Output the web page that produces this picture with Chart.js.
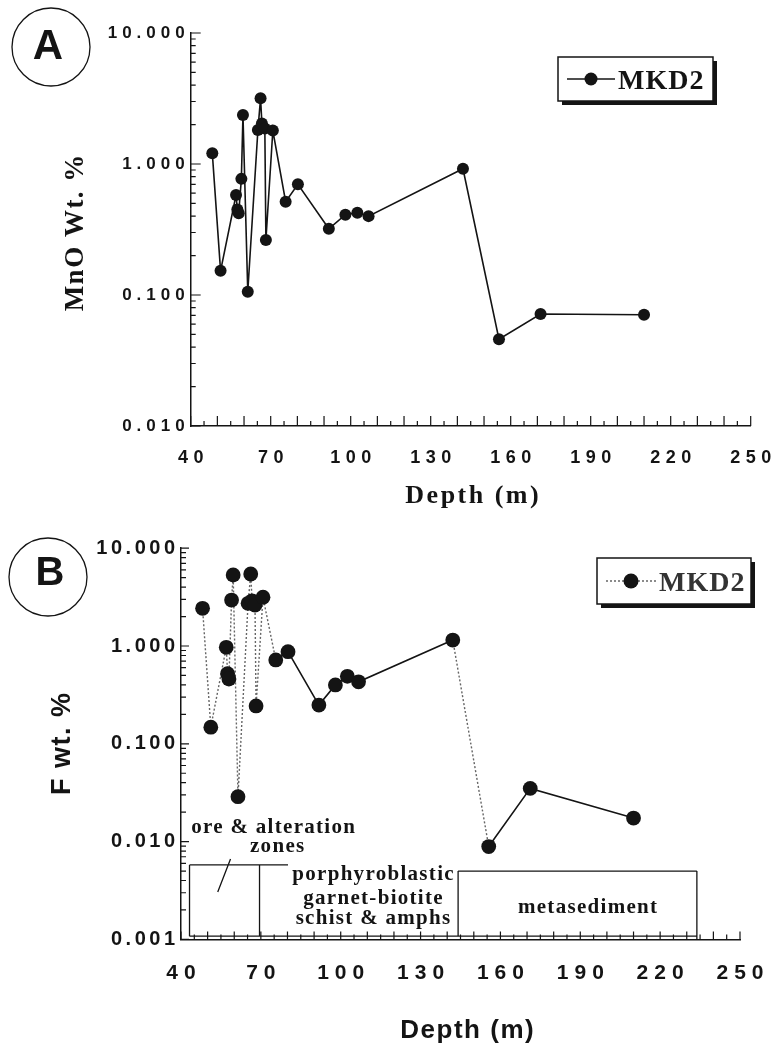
<!DOCTYPE html>
<html lang="en">
<head>
<meta charset="UTF-8" />
<title>MKD2 - MnO and F versus depth</title>
<script src="https://cdn.jsdelivr.net/npm/chart.js"></script>
<style>
  html, body { margin: 0; padding: 0; background: #fff; }
  #wrap { position: relative; width: 772px; height: 1045px; overflow: hidden; }
  canvas { position: absolute; left: 0; }
  #chartA { top: 0; }
  #chartB { top: 515px; }
</style>
</head>
<body>
<div id="wrap">
  <canvas id="chartA" width="772" height="515"></canvas>
  <canvas id="chartB" width="772" height="530"></canvas>
</div>

<script>
// drill hole MKD2 samples
const depth  = [48.1, 51.2, 57.0, 57.5, 58.0, 59.0, 59.6, 61.4, 65.2, 66.2, 66.7, 67.8, 68.2, 70.8, 75.6, 80.2, 91.8, 98.0, 102.5, 106.7, 142.1, 155.6, 171.2, 210.0];
const mnoWt  = [1.21, 0.153, 0.58, 0.45, 0.42, 0.77, 2.37, 0.106, 1.82, 3.18, 2.04, 1.87, 0.263, 1.80, 0.515, 0.70, 0.32, 0.41, 0.425, 0.40, 0.92, 0.046, 0.0716, 0.0707];
const fWt    = [2.43, 0.148, 0.97, 0.52, 0.46, 2.95, 5.32, 0.0288, 2.73, 5.45, 2.90, 2.62, 0.244, 3.15, 0.72, 0.875, 0.249, 0.40, 0.49, 0.43, 1.15, 0.0089, 0.035, 0.0174];

const depthTicks = [40, 70, 100, 130, 160, 190, 220, 250];
const mnoTicks = [0.01, 0.1, 1, 10];
const fTicks = [0.001, 0.01, 0.1, 1, 10];
const seriesName = 'MKD2';
const zoneLabels = ['ore & alteration', 'zones', 'porphyroblastic', 'garnet-biotite', 'schist & amphs', 'metasediment'];

const INK = '#141414';
const SANS = '"Liberation Sans", Arial, sans-serif';
const SERIF = '"Liberation Serif", "Times New Roman", serif';

function text(ctx, str, x, y, font, spacing, align, rot) {
  ctx.save();
  ctx.font = font;
  ctx.letterSpacing = spacing + 'px';
  ctx.fillStyle = INK;
  ctx.textAlign = align || 'center';
  ctx.textBaseline = 'middle';
  ctx.translate(x, y);
  if (rot) ctx.rotate(rot);
  // trailing letter spacing shifts centred text, compensate
  const shift = ctx.textAlign === 'center' ? spacing / 2 : (ctx.textAlign === 'right' ? spacing : 0);
  ctx.fillText(str, shift, 0);
  ctx.restore();
}

function drawInnerTicks(chart, o) {
  const {ctx, scales: {x, y}} = chart;
  ctx.save();
  ctx.strokeStyle = INK;
  ctx.lineWidth = 1.2;
  ctx.beginPath();
  for (let d = x.min; d <= x.max + 1e-9; d += 5) {
    const px = x.getPixelForValue(d);
    const len = d % 10 === 0 ? o.major : o.minor;
    ctx.moveTo(px, y.bottom);
    ctx.lineTo(px, y.bottom - len);
  }
  const e0 = Math.round(Math.log10(y.min)), e1 = Math.round(Math.log10(y.max));
  for (let e = e0; e <= e1; e++) {
    for (let m = 1; m <= 9; m++) {
      const v = m * Math.pow(10, e);
      if (v > y.max * 1.0001) break;
      const py = y.getPixelForValue(v);
      ctx.moveTo(x.left, py);
      ctx.lineTo(x.left + (m === 1 ? o.major : o.minor), py);
    }
  }
  ctx.stroke();
  ctx.restore();
}

function drawTickLabels(chart, o) {
  const {ctx, scales: {x, y}} = chart;
  x.ticks.forEach(t => text(ctx, t.label, x.getPixelForValue(t.value), y.bottom + o.xGap,
    `bold ${o.xSize}px ${SANS}`, o.xSpace, 'center'));
  y.ticks.forEach(t => text(ctx, t.label, x.left - o.yGap, y.getPixelForValue(t.value),
    `bold ${o.ySize}px ${SANS}`, o.ySpace, 'right'));
}

function drawPanelLetter(ctx, c) {
  ctx.save();
  ctx.strokeStyle = INK;
  ctx.lineWidth = 1.3;
  ctx.beginPath();
  ctx.arc(c.cx, c.cy, c.r, 0, Math.PI * 2);
  ctx.stroke();
  ctx.restore();
  text(ctx, c.letter, c.lx, c.ly, `bold ${c.size}px ${SANS}`, 0, 'center');
}

function drawLegend(chart, L) {
  const ctx = chart.ctx;
  const ds = chart.data.datasets[0];
  ctx.save();
  ctx.fillStyle = INK;
  ctx.fillRect(L.l + 4, L.t + 4, L.w, L.h);
  ctx.fillStyle = '#fff';
  ctx.fillRect(L.l, L.t, L.w, L.h);
  ctx.strokeStyle = INK;
  ctx.lineWidth = 1.5;
  ctx.strokeRect(L.l, L.t, L.w, L.h);
  const my = L.t + L.h / 2;
  ctx.beginPath();
  ctx.strokeStyle = L.dashed ? '#666' : INK;
  ctx.setLineDash(L.dashed ? [2, 2] : []);
  ctx.lineWidth = 1.5;
  ctx.moveTo(L.l + 9, my);
  ctx.lineTo(L.l + 9 + L.lineLen, my);
  ctx.stroke();
  ctx.setLineDash([]);
  ctx.fillStyle = INK;
  ctx.beginPath();
  ctx.arc(L.l + 9 + L.lineLen / 2, my, L.r, 0, Math.PI * 2);
  ctx.fill();
  ctx.font = `bold 28px ${SERIF}`;
  ctx.letterSpacing = '1px';
  ctx.textAlign = 'left';
  ctx.textBaseline = 'alphabetic';
  ctx.fillStyle = L.dashed ? '#333' : INK;
  ctx.fillText(ds.label, L.l + 12 + L.lineLen, my + 10);
  ctx.restore();
}

function drawZones(chart) {
  const {ctx, scales: {x, y}} = chart;
  const X = v => x.getPixelForValue(v), Y = v => y.getPixelForValue(v);
  ctx.save();
  ctx.strokeStyle = INK;
  ctx.lineWidth = 1.3;
  ctx.beginPath();
  const seg = (a, b, c, d) => { ctx.moveTo(X(a), Y(b)); ctx.lineTo(X(c), Y(d)); };
  seg(43.2, 0.00577, 80.2, 0.00577);
  seg(43.2, 0.00577, 43.2, 0.00108);
  seg(69.5, 0.00577, 69.5, 0.00108);
  seg(43.2, 0.00108, 233.8, 0.00108);
  seg(144.1, 0.0050, 233.8, 0.0050);
  seg(144.1, 0.0050, 144.1, 0.00108);
  seg(233.8, 0.0050, 233.8, 0.001);
  seg(58.6, 0.00664, 53.8, 0.00305);
  ctx.stroke();
  ctx.restore();
  const f = `bold 21px ${SERIF}`;
  text(ctx, zoneLabels[0], X(74.6), Y(0.0138), f, 1.3);
  text(ctx, zoneLabels[1], X(76.1), Y(0.0088), f, 1.3);
  text(ctx, zoneLabels[2], X(112.1), Y(0.00455), f, 1.3);
  text(ctx, zoneLabels[3], X(112.1), Y(0.00259), f, 1.3);
  text(ctx, zoneLabels[4], X(112.1), Y(0.00162), f, 1.3);
  text(ctx, zoneLabels[5], X(192.7), Y(0.00214), f, 1.3);
}

function decorations(cfg) {
  return {
    id: 'deco' + cfg.panel.letter,
    afterDraw(chart) {
      const ctx = chart.ctx;
      drawInnerTicks(chart, cfg.ticks);
      drawTickLabels(chart, cfg.labels);
      cfg.titles.forEach(t => text(ctx, t.str, t.x, t.y, t.font, t.space, 'center', t.rot));
      drawPanelLetter(ctx, cfg.panel);
      if (cfg.zones) drawZones(chart);
      drawLegend(chart, cfg.legend);
    }
  };
}

function steep(c) {
  return Math.abs(c.p1.y - c.p0.y) > 2.5 * Math.abs(c.p1.x - c.p0.x);
}

function makeChart(id, values, logTicks, o) {
  return new Chart(document.getElementById(id), {
    type: 'scatter',
    data: {
      datasets: [{
        label: seriesName,
        data: depth.map((d, i) => ({x: d, y: values[i]})),
        showLine: true,
        borderColor: INK,
        borderWidth: 1.6,
        pointRadius: o.pointR,
        pointBackgroundColor: INK,
        pointBorderWidth: 0,
        segment: o.dotSteep ? {
          borderDash: c => steep(c) ? [2, 2] : undefined,
          borderColor: c => steep(c) ? '#666' : INK,
          borderWidth: c => steep(c) ? 1.4 : 1.6
        } : undefined
      }]
    },
    options: {
      responsive: false,
      animation: false,
      events: [],
      layout: { autoPadding: false, padding: { left: 0, top: o.top, right: o.right, bottom: 0 } },
      plugins: { legend: { display: false }, tooltip: { enabled: false } },
      scales: {
        x: {
          type: 'linear', min: 40, max: 250,
          afterBuildTicks: s => { s.ticks = depthTicks.map(v => ({value: v})); },
          afterFit: s => { s.height = o.xHeight; s.paddingLeft = 0; s.paddingRight = 0; },
          grid: { display: false, drawTicks: false },
          border: { display: true, color: INK, width: 1.5 },
          ticks: { display: false }
        },
        y: {
          type: 'logarithmic', min: logTicks[0], max: logTicks[logTicks.length - 1],
          afterBuildTicks: s => { s.ticks = logTicks.map(v => ({value: v})); },
          afterFit: s => { s.width = o.left; s.paddingTop = 0; s.paddingBottom = 0; },
          grid: { display: false, drawTicks: false },
          border: { display: true, color: INK, width: 1.5 },
          ticks: { display: false, callback: v => Number(v).toFixed(3) }
        }
      }
    },
    plugins: [decorations(o.deco)]
  });
}

makeChart('chartA', mnoWt, mnoTicks, {
  top: 33, right: 21.3, left: 190.7, xHeight: 89, pointR: 6,
  deco: {
    ticks: { major: 10, minor: 5 },
    labels: { xSize: 18, xSpace: 5.5, xGap: 32, ySize: 17, ySpace: 5, yGap: 6 },
    titles: [
      { str: 'MnO Wt. %', x: 76, y: 233, font: `bold 27px ${SERIF}`, space: 1.5, rot: -Math.PI / 2 },
      { str: 'Depth (m)', x: 472, y: 496, font: `bold 26px ${SERIF}`, space: 2.5 }
    ],
    panel: { letter: 'A', cx: 51, cy: 47, r: 39, lx: 48, ly: 47, size: 42 },
    legend: { l: 558, t: 57, w: 155, h: 44, lineLen: 48, r: 6.5, dashed: false }
  }
});

makeChart('chartB', fWt, fTicks, {
  top: 33.2, right: 32, left: 181, xHeight: 105.6, pointR: 7.4, dotSteep: true,
  deco: {
    ticks: { major: 8, minor: 5 },
    labels: { xSize: 21, xSpace: 6, xGap: 34, ySize: 20, ySpace: 3.5, yGap: 6 },
    titles: [
      { str: 'F wt. %', x: 63, y: 229, font: `bold 27px ${SANS}`, space: 1.5, rot: -Math.PI / 2 },
      { str: 'Depth (m)', x: 467, y: 516, font: `bold 26px ${SANS}`, space: 1.5 }
    ],
    panel: { letter: 'B', cx: 48, cy: 62, r: 39, lx: 50, ly: 59, size: 40 },
    zones: true,
    legend: { l: 597, t: 43, w: 154, h: 46, lineLen: 50, r: 7.5, dashed: true }
  }
});
</script>
</body>
</html>
